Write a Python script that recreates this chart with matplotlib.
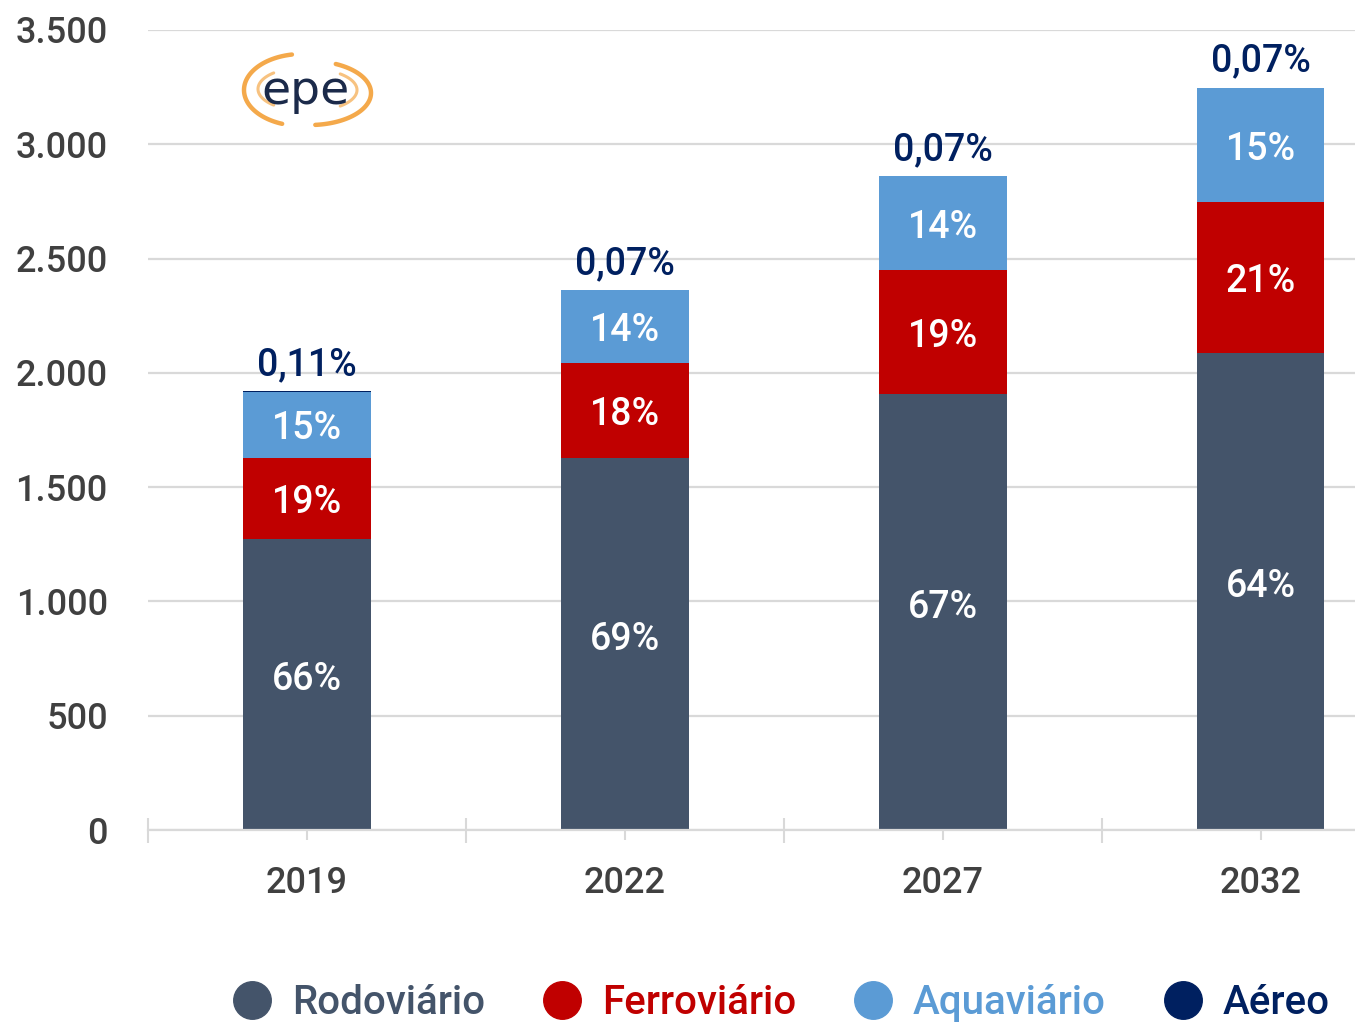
import matplotlib.pyplot as plt
import numpy as np
from matplotlib.lines import Line2D

plt.rcParams['font.family'] = ['Roboto', 'DejaVu Sans']
plt.rcParams['font.weight'] = 'medium'

# data
years = ["2019", "2022", "2027", "2032"]
rodoviario = [1273, 1627, 1907, 2087]
ferroviario = [355, 416, 543, 660]
aquaviario = [289, 319, 411, 499]
aereo = [2.1, 1.7, 2.0, 2.3]

lbl_rodo = ["66%", "69%", "67%", "64%"]
lbl_ferro = ["19%", "18%", "19%", "21%"]
lbl_aqua = ["15%", "14%", "14%", "15%"]
lbl_aereo = ["0,11%", "0,07%", "0,07%", "0,07%"]

yticks = [0, 500, 1000, 1500, 2000, 2500, 3000, 3500]
ytick_labels = ["0", "500", "1.000", "1.500", "2.000", "2.500", "3.000", "3.500"]

series_names = ["Rodoviário", "Ferroviário", "Aquaviário", "Aéreo"]
colors = ["#44546A", "#C00000", "#5B9BD5", "#002060"]
grid_c = "#D9D9D9"
text_c = "#404040"

W, H = 1355, 1023
fig = plt.figure(figsize=(W / 100, H / 100), dpi=100)
ax = fig.add_axes([148 / W, 1 - 830 / H, 1 - 148 / W, (830 - 30) / H])

x = np.arange(len(years))
width = 0.4
rodo = np.array(rodoviario)
ferro = np.array(ferroviario)
aqua = np.array(aquaviario)
aer = np.array(aereo)

ax.bar(x, rodo, width, color=colors[0], zorder=3)
ax.bar(x, ferro, width, bottom=rodo, color=colors[1], zorder=3)
ax.bar(x, aqua, width, bottom=rodo + ferro, color=colors[2], zorder=3)
ax.bar(x, aer, width, bottom=rodo + ferro + aqua, color=colors[3], zorder=3)

fs = 27
dy = -18  # small nudge so the digits sit visually centred
for i in range(len(years)):
    ax.text(x[i], rodo[i] / 2 + 40 + dy, lbl_rodo[i], ha="center", va="center",
            color="white", fontsize=fs, zorder=4)
    ax.text(x[i], rodo[i] + ferro[i] / 2 + dy, lbl_ferro[i], ha="center",
            va="center", color="white", fontsize=fs, zorder=4)
    ax.text(x[i], rodo[i] + ferro[i] + aqua[i] / 2 + dy, lbl_aqua[i],
            ha="center", va="center", color="white", fontsize=fs, zorder=4)
    top = rodo[i] + ferro[i] + aqua[i] + aer[i]
    ax.text(x[i], top + 115, lbl_aereo[i], ha="center", va="center",
            color=colors[3], fontsize=fs, zorder=4)

ax.set_xlim(-0.5, 3.296)
ax.set_ylim(0, 3500)
ax.set_yticks(yticks)
ax.set_yticklabels(ytick_labels)
ax.yaxis.grid(True, color=grid_c, linewidth=1.6, zorder=0)
ax.set_axisbelow(True)
ax.tick_params(axis="y", length=0, pad=29, labelsize=26, labelcolor=text_c)

ax.set_xticks(x)
ax.set_xticklabels(years)
ax.set_xticks([-0.5, 0.5, 1.5, 2.5], minor=True)
ax.tick_params(axis="x", which="major", direction="out", length=7, width=1.5,
               color=grid_c, pad=19, labelsize=26, labelcolor=text_c)
ax.tick_params(axis="x", which="minor", direction="inout", length=18, width=1.5,
               color=grid_c)

for s in ["top", "right", "left"]:
    ax.spines[s].set_visible(False)
ax.spines["bottom"].set_color(grid_c)
ax.spines["bottom"].set_linewidth(1.6)
ax.spines["bottom"].set_zorder(5)

# epe logo
lax = fig.add_axes([220 / W, 1 - 140 / H, 170 / W, 100 / H])
lax.set_xlim(220, 390)
lax.set_ylim(140, 40)
lax.axis("off")
orange = "#F39A2B"


def arc(cx, cy, rx, ry, t0, t1, lw, alpha):
    t = np.radians(np.linspace(t0, t1, 80))
    lax.plot(cx + rx * np.cos(t), cy - ry * np.sin(t), color=orange, lw=lw,
             alpha=alpha, solid_capstyle="round")


arc(302, 90, 58, 36, 100, 250, 3.2, 0.85)
arc(310, 93, 61, 32, -85, 65, 3.2, 0.85)
arc(302, 89, 44, 21, 130, 230, 2.2, 0.6)
arc(310, 90, 47, 21, -50, 50, 2.2, 0.6)
lax.text(305, 91, "epe", ha="center", va="center", fontsize=34,
         family="DejaVu Sans", color="#1B2A4A")

# legend
handles = [Line2D([], [], marker="o", linestyle="none", markersize=27,
                  markerfacecolor=c, markeredgecolor=c) for c in colors]
leg = fig.legend(handles, series_names, loc="center", ncol=4,
                 bbox_to_anchor=(781 / W, 1 - 1003 / H), frameon=False,
                 fontsize=29, handlelength=1.0, handletextpad=0.49,
                 columnspacing=1.41, borderpad=0, borderaxespad=0)
for t, c in zip(leg.get_texts(), colors):
    t.set_color(c)

fig.savefig("out.png", dpi=100)
